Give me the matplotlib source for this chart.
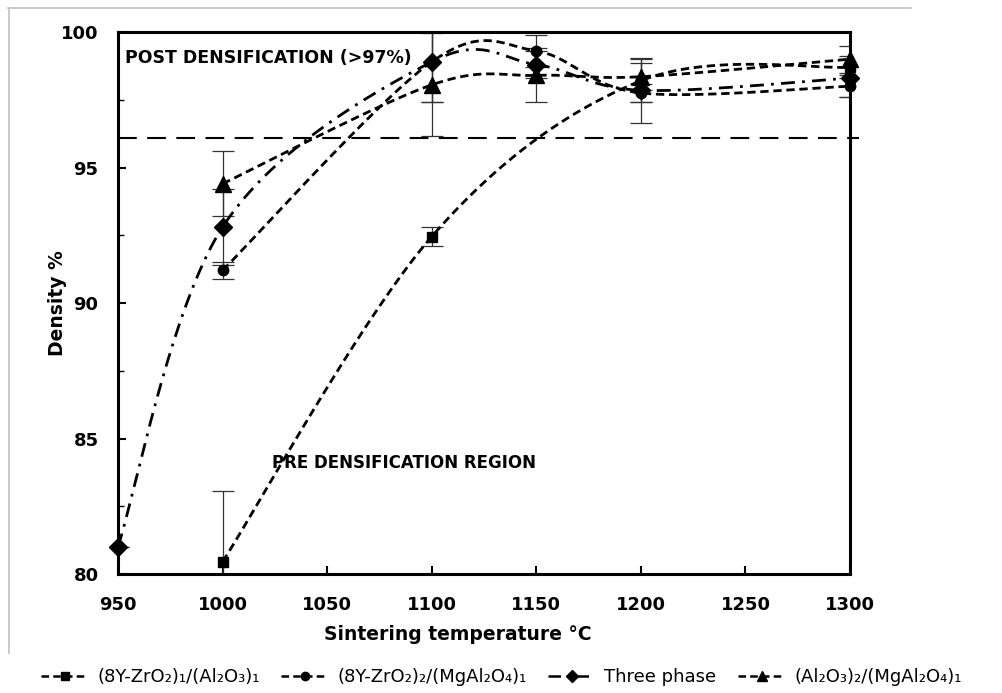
import numpy as np
import matplotlib
matplotlib.use("Agg")
import matplotlib.pyplot as plt
from matplotlib.lines import Line2D

# sintering temperatures (°C) and relative densities (%)
t_zr_al = [1000, 1100, 1200, 1300]
d_zr_al = [80.45, 92.45, 98.2, 98.7]
e_zr_al = [2.6, 0.35, 0.8, 0.4]

t_zr_mg = [1000, 1100, 1150, 1200, 1300]
d_zr_mg = [91.2, 98.9, 99.3, 97.75, 98.0]
e_zr_mg = [0.3, 1.5, 0.6, 0.35, 0.4]

t_three = [950, 1000, 1100, 1150, 1200, 1300]
d_three = [81.0, 92.8, 98.9, 98.8, 97.85, 98.3]
e_three = [0.0, 1.4, 1.5, 0.5, 1.2, 0.7]

t_al_mg = [1000, 1100, 1150, 1200, 1300]
d_al_mg = [94.4, 98.05, 98.4, 98.35, 99.0]
e_al_mg = [1.2, 1.9, 1.0, 0.5, 0.5]

threshold = 96.1

labels = ["(8Y-ZrO\u2082)\u2081/(Al\u2082O\u2083)\u2081",
          "(8Y-ZrO\u2082)\u2082/(MgAl\u2082O\u2084)\u2081",
          "Three phase",
          "(Al\u2082O\u2083)\u2082/(MgAl\u2082O\u2084)\u2081"]


def smooth(x, y, n=40):
    """Bezier smoothing through every point (spreadsheet-style smoothed line)."""
    p = np.column_stack([x, y]).astype(float)
    ext = np.vstack([p[0], p, p[-1]])
    t = np.linspace(0, 1, n)[:, None]
    parts = []
    for i in range(len(p) - 1):
        p0, p1, p2, p3 = ext[i], ext[i + 1], ext[i + 2], ext[i + 3]
        c1 = p1 + (p2 - p0) / 6
        c2 = p2 - (p3 - p1) / 6
        seg = (1 - t) ** 3 * p1 + 3 * (1 - t) ** 2 * t * c1 + 3 * (1 - t) * t ** 2 * c2 + t ** 3 * p2
        parts.append(seg if i == 0 else seg[1:])
    s = np.vstack(parts)
    return s[:, 0], s[:, 1]


fig = plt.figure(figsize=(10.03, 6.93), dpi=100)
ax = fig.add_axes([0.1176, 0.1717, 0.7299, 0.7821])

DASH = (0, (3.0, 1.7))
DASHDOT = (0, (5.0, 2.6, 1.0, 2.6))

series = [
    (t_zr_al, d_zr_al, e_zr_al, "s", 7.5, DASH),
    (t_zr_mg, d_zr_mg, e_zr_mg, "o", 7.5, DASH),
    (t_three, d_three, e_three, "D", 9.5, DASHDOT),
    (t_al_mg, d_al_mg, e_al_mg, "^", 11, DASH),
]

for x, y, e, m, ms, ls in series:
    sx, sy = smooth(x, y)
    ax.plot(sx, sy, color="black", lw=2.0, linestyle=ls, zorder=3)
    ax.errorbar(x, y, yerr=e, fmt="none", ecolor="#333333", elinewidth=0.9,
                capsize=8, capthick=0.9, zorder=2)
    ax.plot(x, y, linestyle="none", marker=m, markersize=ms, color="black",
            zorder=4, clip_on=False)

ax.plot([0, 1.012], [threshold, threshold], transform=ax.get_yaxis_transform(),
        color="black", lw=1.5, linestyle=(0, (9, 5)), clip_on=False, zorder=2)

ax.set_xlim(950, 1300)
ax.set_ylim(80, 100)
ax.set_xticks(np.arange(950, 1301, 50))
ax.set_yticks(np.arange(80, 101, 5))
ax.set_yticks(np.arange(80, 101, 2.5), minor=True)

for s in ax.spines.values():
    s.set_linewidth(2.2)
    s.set_zorder(5)

ax.tick_params(axis="both", which="major", direction="in", length=6, width=1.5,
               labelsize=13)
ax.tick_params(axis="y", which="minor", direction="in", length=4, width=1)
ax.tick_params(axis="y", pad=14)
ax.tick_params(axis="x", pad=16)
for lab in ax.get_xticklabels() + ax.get_yticklabels():
    lab.set_fontweight("bold")

ax.set_ylabel("Density %", fontsize=13.5, fontweight="bold")
ax.yaxis.set_label_coords(-0.07, 0.5)
ax.set_xlabel("Sintering temperature \u00b0C", fontsize=13.5, fontweight="bold")
ax.xaxis.set_label_coords(0.464, -0.094)

ax.text(0.01, 0.952, "POST DENSIFICATION (>97%)", transform=ax.transAxes,
        fontsize=12.5, fontweight="bold", va="center", ha="left")
ax.text(0.21, 0.205, "PRE DENSIFICATION REGION", transform=ax.transAxes,
        fontsize=12, fontweight="bold", va="center", ha="left")

# light frame around the chart area
fig.add_artist(Line2D([0.008, 0.908], [0.988, 0.988], color="#c0c0c0", lw=1.2))
fig.add_artist(Line2D([0.009, 0.009], [0.988, 0.058], color="#c0c0c0", lw=1.2))

handles = [
    Line2D([], [], color="black", lw=1.8, linestyle=DASH, marker="s", markersize=6),
    Line2D([], [], color="black", lw=1.8, linestyle=DASH, marker="o", markersize=6),
    Line2D([], [], color="black", lw=1.8, linestyle=DASHDOT, marker="D", markersize=6),
    Line2D([], [], color="black", lw=1.8, linestyle=DASH, marker="^", markersize=7),
]
fig.legend(handles, labels, loc="center", bbox_to_anchor=(0.5, 0.023), ncol=4,
           frameon=False, handlelength=2.6, handletextpad=0.5, columnspacing=1.2,
           prop={"family": ["Liberation Sans Narrow", "DejaVu Sans"], "size": 13})

fig.savefig("out.png", dpi=100, facecolor="white")
